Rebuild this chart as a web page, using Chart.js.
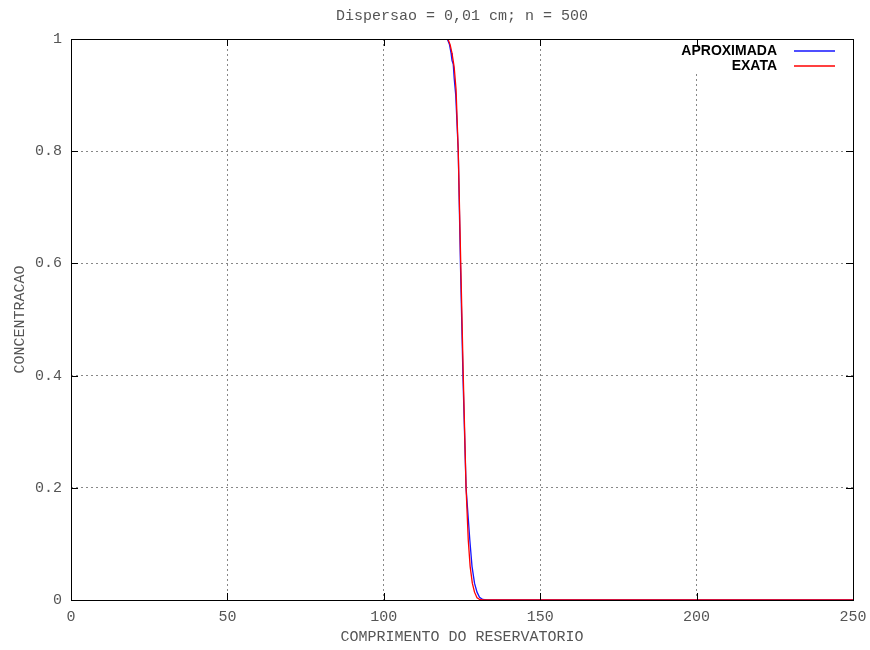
<!DOCTYPE html>
<html>
<head>
<meta charset="utf-8">
<title>Dispersao = 0,01 cm; n = 500</title>
<script src="https://cdn.jsdelivr.net/npm/chart.js@4.4.1/dist/chart.umd.min.js"></script>
<style>
  body { margin: 0; background: #fff; }
  #chart { display: block; }
</style>
</head>
<body>
<canvas id="chart" width="870" height="650"></canvas>
<script>
// values
const xAprox = [0, 120.3, 121.0, 121.5, 121.8, 122.2, 122.5, 123.0, 123.8, 124.5, 125.3, 126.3, 127.5, 128.2, 129.0, 129.8, 130.6, 131.6, 133, 250];
const yAprox = [1, 1, 0.99, 0.975, 0.962, 0.955, 0.93, 0.9, 0.8, 0.6, 0.4, 0.2, 0.107, 0.06, 0.03, 0.014, 0.005, 0.001, 0, 0];

const xExata = [0, 120.5, 121.2, 121.8, 122.5, 123.1, 123.8, 124.6, 125.4, 126.3, 127.0, 127.6, 128.3, 129.0, 129.8, 130.8, 132, 250];
const yExata = [1, 1, 0.99, 0.975, 0.95, 0.91, 0.8, 0.6, 0.4, 0.2, 0.107, 0.06, 0.03, 0.014, 0.004, 0.0005, 0, 0];

const xTicks = [0, 50, 100, 150, 200, 250];
const xTickLabels = ['0', '50', '100', '150', '200', '250'];
const yTicks = [0, 0.2, 0.4, 0.6, 0.8, 1];
const yTickLabels = ['0', '0.2', '0.4', '0.6', '0.8', '1'];

const seriesNames = ['APROXIMADA', 'EXATA'];
const seriesColors = ['rgb(20,20,255)', 'rgb(255,0,0)'];

const titleText = 'Dispersao = 0,01 cm; n = 500';
const xTitle = 'COMPRIMENTO DO RESERVATORIO';
const yTitle = 'CONCENTRACAO';

const MONO = "'Liberation Mono', 'DejaVu Sans Mono', monospace";
const TEXT_COLOR = '#555';

const toPoints = (xs, ys) => xs.map((x, i) => ({ x: x, y: ys[i] }));

// gnuplot-like frame, inward ticks, key and titles
const gnuplotDecor = {
  id: 'gnuplotDecor',
  beforeDatasetsDraw(chart) {
    // key box hides the grid behind it
    const { ctx, chartArea } = chart;
    ctx.save();
    ctx.fillStyle = '#fff';
    ctx.fillRect(chartArea.right - 177, chartArea.top + 1, 176, 33);
    ctx.restore();
  },
  afterDraw(chart) {
    const { ctx, chartArea, scales } = chart;
    const { left, right, top, bottom } = chartArea;
    const tick = 7;
    ctx.save();

    // frame
    ctx.strokeStyle = '#000';
    ctx.lineWidth = 1;
    ctx.strokeRect(Math.round(left) + 0.5, Math.round(top) + 0.5,
      Math.round(right - left), Math.round(bottom - top));

    // inward tick marks
    ctx.beginPath();
    xTicks.forEach(v => {
      const px = Math.round(scales.x.getPixelForValue(v)) + 0.5;
      ctx.moveTo(px, bottom); ctx.lineTo(px, bottom - tick);
      ctx.moveTo(px, top); ctx.lineTo(px, top + tick);
    });
    yTicks.forEach(v => {
      const py = Math.round(scales.y.getPixelForValue(v)) + 0.5;
      ctx.moveTo(left, py); ctx.lineTo(left + tick, py);
      ctx.moveTo(right, py); ctx.lineTo(right - tick, py);
    });
    ctx.stroke();

    // titles
    ctx.fillStyle = TEXT_COLOR;
    ctx.font = '15px ' + MONO;
    ctx.textAlign = 'center';
    ctx.textBaseline = 'middle';
    const cx = (left + right) / 2;
    ctx.fillText(titleText, cx, 16);
    ctx.fillText(xTitle, cx, 637);
    ctx.save();
    ctx.translate(20, (top + bottom) / 2);
    ctx.rotate(-Math.PI / 2);
    ctx.fillText(yTitle, 0, 0);
    ctx.restore();

    // key
    ctx.font = 'bold 14px "Liberation Sans", Arial, sans-serif';
    ctx.textAlign = 'right';
    ctx.fillStyle = '#000';
    seriesNames.forEach((name, i) => {
      const ky = top + 12 + i * 15;
      ctx.fillText(name, right - 76, ky);
      ctx.strokeStyle = seriesColors[i];
      ctx.lineWidth = 1.3;
      ctx.beginPath();
      ctx.moveTo(right - 59, ky);
      ctx.lineTo(right - 18, ky);
      ctx.stroke();
    });

    ctx.restore();
  }
};

const gridOpts = {
  color: '#888',
  lineWidth: 1,
  drawTicks: false
};

new Chart(document.getElementById('chart'), {
  type: 'line',
  data: {
    datasets: [
      {
        label: seriesNames[0],
        data: toPoints(xAprox, yAprox),
        borderColor: seriesColors[0],
        borderWidth: 1.3,
        pointRadius: 0,
        tension: 0,
        order: 1
      },
      {
        label: seriesNames[1],
        data: toPoints(xExata, yExata),
        borderColor: seriesColors[1],
        borderWidth: 1.3,
        pointRadius: 0,
        tension: 0,
        order: 0
      }
    ]
  },
  options: {
    responsive: false,
    devicePixelRatio: 1,
    animation: false,
    layout: { padding: { top: 39, right: 17, left: 0, bottom: 0 } },
    plugins: {
      legend: { display: false },
      tooltip: { enabled: false }
    },
    scales: {
      x: {
        type: 'linear',
        min: 0,
        max: 250,
        afterBuildTicks: scale => { scale.ticks = xTicks.map(v => ({ value: v })); },
        afterFit: scale => {
          scale.height = 50;
          // labels may overhang the plot edges, like gnuplot
          scale.paddingLeft = 0;
          scale.paddingRight = 0;
        },
        grid: gridOpts,
        border: { display: false, dash: [2, 3] },
        ticks: {
          padding: 8,
          color: TEXT_COLOR,
          font: { family: MONO, size: 15 },
          maxRotation: 0,
          callback: (v, i) => xTickLabels[i]
        }
      },
      y: {
        type: 'linear',
        min: 0,
        max: 1,
        afterBuildTicks: scale => { scale.ticks = yTicks.map(v => ({ value: v })); },
        afterFit: scale => {
          scale.width = 71;
          scale.paddingTop = 0;
          scale.paddingBottom = 0;
        },
        grid: gridOpts,
        border: { display: false, dash: [2, 3] },
        ticks: {
          padding: 9,
          color: TEXT_COLOR,
          font: { family: MONO, size: 15 },
          callback: (v, i) => yTickLabels[i]
        }
      }
    }
  },
  plugins: [gnuplotDecor]
});
</script>
</body>
</html>
